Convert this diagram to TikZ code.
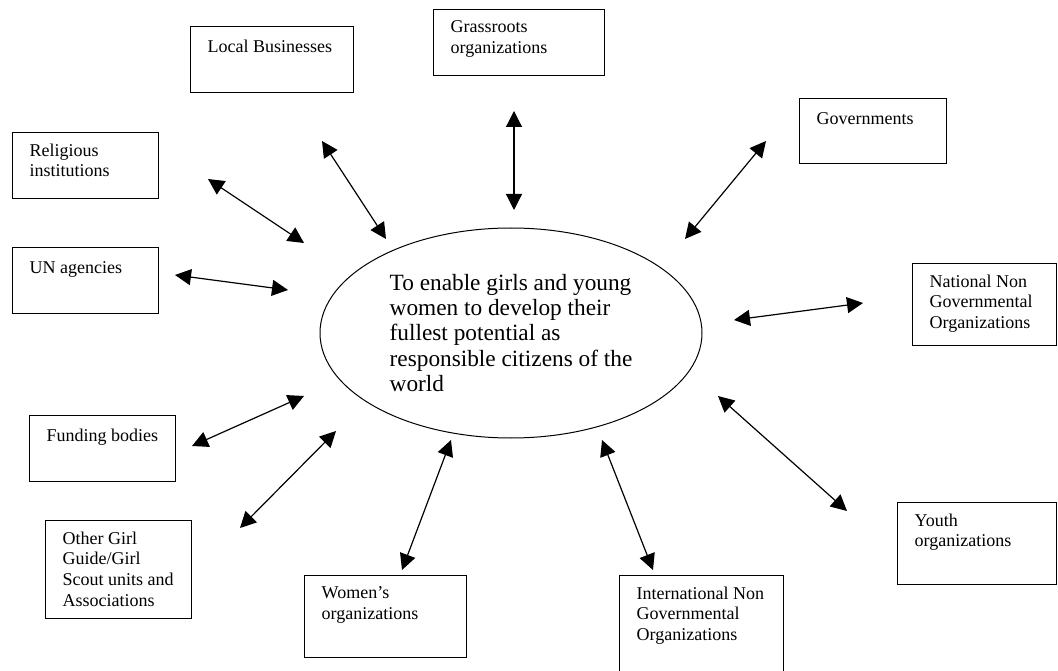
\documentclass[tikz,border=0pt]{standalone}
\usepackage{fontspec}
\setmainfont{Liberation Serif}
\usetikzlibrary{arrows.meta, shapes.geometric}

\begin{document}
\begin{tikzpicture}[x=1pt, y=-1pt,
    orgbox/.style={draw, line width=1.2pt, inner sep=0pt, anchor=north west},
    lab/.style={font=\fontsize{18}{20.7}\selectfont, align=left, inner sep=0pt,
        anchor=north west, execute at begin node=\strut},
    goal/.style={draw, ellipse, line width=1pt, minimum width=382pt, minimum height=210pt,
        font=\fontsize{23.3}{25.2}\selectfont, align=left},
    link/.style={arrows={Triangle[length=16pt, width=16pt]-Triangle[length=16pt, width=16pt]},
        line width=1.2pt},
]
\useasboundingbox (0,0) rectangle (1058,671);

% ---------------- centre
\node[goal] (goal) at (511,333) {To enable girls and young\\women to develop their\\fullest potential as\\responsible citizens of the\\world};

% ---------------- partners
\foreach \n/\l/\t/\r/\b/\txt in {
    lb/190/26/353/92/{Local Businesses},
    gr/433/9/604/75/{Grassroots\\organizations},
    rel/12/132/158/198/{Religious\\institutions},
    un/12/247/158/313/{UN agencies},
    gov/799/98/946/163/{Governments},
    nat/912/263/1056/345/{National Non\\Governmental\\Organizations},
    fund/29/415/175/481/{Funding bodies},
    oth/45/520/191/618/{Other Girl\\Guide/Girl\\Scout units and\\Associations},
    wom/304/575/466/657/{Women’s\\organizations},
    intl/619/575/783/680/{International Non\\Governmental\\Organizations},
    yth/897/502/1056/584/{Youth\\organizations}}{
    \node[orgbox, minimum width={(\r-\l)*1pt}, minimum height={(\b-\t)*1pt}] (\n) at (\l,\t) {};
    \node[lab] (\n-lab) at ([xshift=17.5pt, yshift=-11.5pt]\n.north west) {\txt};
}

% ---------------- arrows, both ends free
\foreach \n/\ax/\ay/\bx/\by in {
    lb/322/141/386/239,
    gr/514/111/514/210,
    rel/208/179/304/243,
    un/175/275/288/290,
    gov/766/141/685/239,
    nat/863/303/734/320,
    fund/192/446/304/396,
    oth/240/528/336/431,
    wom/402/570/451/440,
    intl/653/570/602/440,
    yth/847/511/718/396}{
    \coordinate (\n-out) at (\ax,\ay);
    \coordinate (\n-in) at (\bx,\by);
    \draw[link] (\n-out) -- (\n-in);
}

\end{tikzpicture}
\end{document}
